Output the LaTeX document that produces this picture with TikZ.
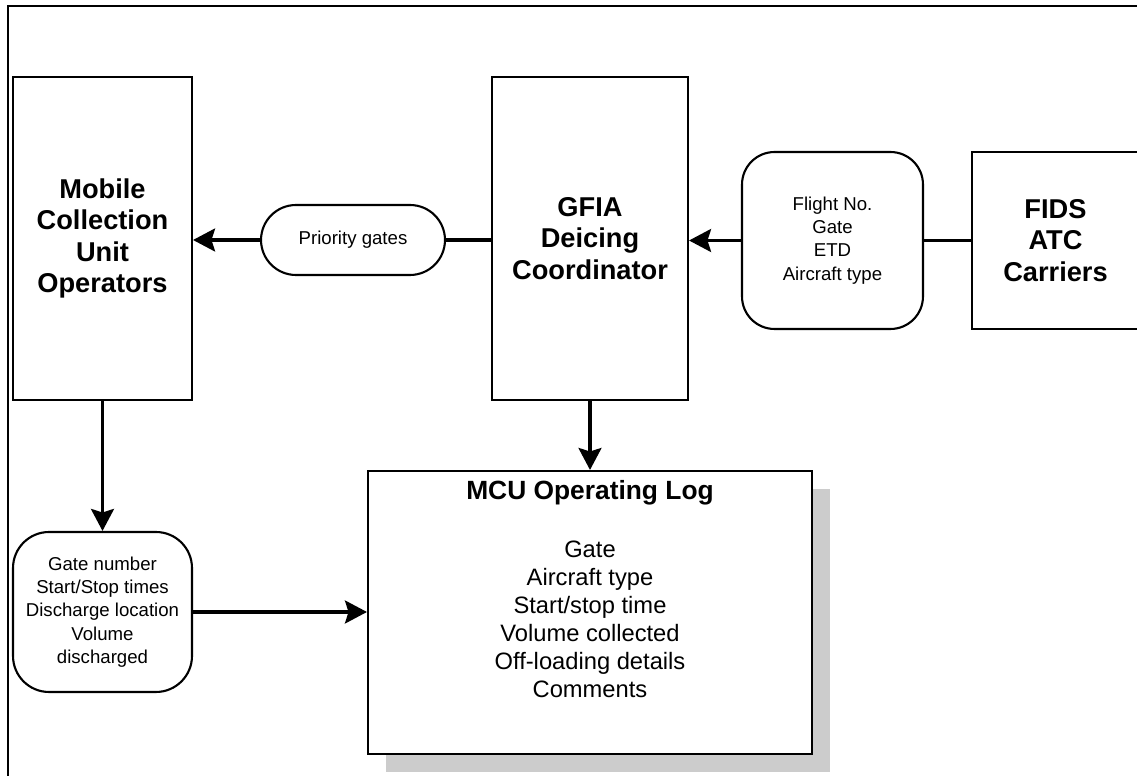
\documentclass[tikz,border=0pt]{standalone}
\usepackage{fontspec}
\setmainfont{Liberation Sans}
\usetikzlibrary{arrows.meta,positioning,shadows}
\definecolor{shadowgray}{HTML}{CCCCCC}
\tikzset{
  unitbox/.style={
    rectangle, draw, line width=1.2pt, fill=white,
    font=\fontsize{15.5}{18}\selectfont\bfseries, align=center,
    inner sep=0pt
  },
  infobox/.style={
    rectangle, draw, line width=1.2pt, fill=white, rounded corners=#1,
    font=\fontsize{10.6}{13.3}\selectfont, align=center,
    inner sep=0pt
  },
  infobox/.default=0.65cm,
  logbox/.style={
    rectangle, draw, line width=1.2pt, fill=white,
    drop shadow={shadow xshift=0.36cm, shadow yshift=-0.36cm,
                 fill=shadowgray, opacity=1}
  },
  logtitle/.style={font=\fontsize{15}{18}\selectfont\bfseries, inner sep=0pt},
  logitems/.style={font=\fontsize{13.5}{15.9}\selectfont, align=center, inner sep=0pt},
  flowline/.style={line width=2pt},
  flowarrow/.style={flowline, -{Stealth[length=12.5pt, width=13pt, inset=2pt]}},
}

\begin{document}
\begin{tikzpicture}[x=0.02cm, y=-0.02cm]
  \useasboundingbox (0,0) rectangle (1137,776);
  \clip (0,0) rectangle (1137,776);

  % outer frame
  \draw[line width=1.2pt] (8,6) rectangle (1160,800);

  % units
  \node[unitbox, minimum width=3.58cm, minimum height=6.46cm] (ops) at (102.5,238.5)
    {Mobile\\Collection\\Unit\\Operators};
  \node[unitbox, minimum width=3.92cm, minimum height=6.46cm] (gfia) at (590,238.5)
    {GFIA\\Deicing\\Coordinator};
  \node[unitbox, minimum width=3.34cm, minimum height=3.54cm] (fids) at (1055.5,240.5)
    {FIDS\\ATC\\Carriers};

  % data passed between units
  \node[infobox=0.7cm, minimum width=3.68cm, minimum height=1.4cm] (prio) at (353,240)
    {Priority gates};
  \node[infobox, minimum width=3.62cm, minimum height=3.54cm] (flight) at (832.5,240.5)
    {Flight No.\\Gate\\ETD\\Aircraft type};
  \node[infobox=0.72cm, minimum width=3.58cm, minimum height=3.2cm] (gate) at (102.5,612)
    {Gate number\\Start/Stop times\\Discharge location\\Volume\\discharged};

  % operating log
  \node[logbox, minimum width=8.88cm, minimum height=5.66cm] (log) at (590,612.5) {};
  \node[logtitle] (logname) at (590,493) {MCU Operating Log};
  \node[logitems] (logfields) at (590,619)
    {Gate\\Aircraft type\\Start/stop time\\Volume collected\\Off-loading details\\Comments};

  \draw[flowline] (fids.west) -- (fids.west -| flight.east);
  \draw[flowarrow] (flight.west) -- (flight.west -| gfia.east);
  \draw[flowline] (prio.east -| gfia.west) -- (prio.east);
  \draw[flowarrow] (prio.west) -- (prio.west -| ops.east);
  \draw[flowarrow] (gfia) -- (log);
  \draw[flowarrow] (ops) -- (gate);
  \draw[flowarrow] (gate.east) -- (gate.east -| log.west);
\end{tikzpicture}
\end{document}
